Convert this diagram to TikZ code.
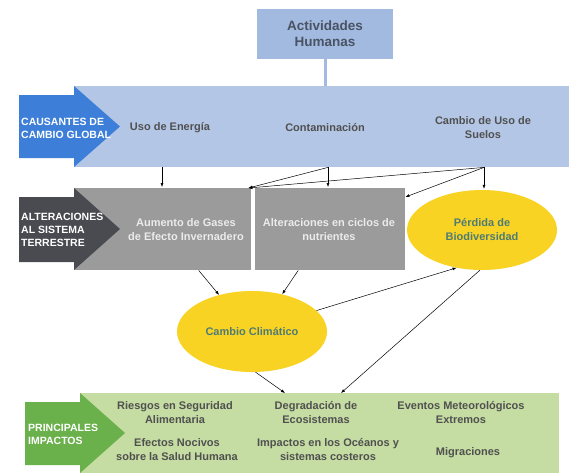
\documentclass[tikz,border=0pt]{standalone}
\usepackage{fontspec}
\setmainfont{Liberation Sans}
\usetikzlibrary{shapes.geometric,arrows.meta,calc}
\definecolor{bandblue}{HTML}{B4C6E6}
\definecolor{topblue}{HTML}{A2BAE0}
\definecolor{arrowblue}{HTML}{3D7FD8}
\definecolor{boxgray}{HTML}{9B9B9B}
\definecolor{darkarrow}{HTML}{4A4A51}
\definecolor{ellyellow}{HTML}{F8D324}
\definecolor{bandgreen}{HTML}{C5DCA2}
\definecolor{arrowgreen}{HTML}{6AB04B}
\definecolor{txtgray}{HTML}{505050}
\definecolor{toptxt}{HTML}{4A5364}
\definecolor{elltxt}{HTML}{4E7B74}
\definecolor{boxtxt}{HTML}{EBEBEB}
\begin{document}
\begin{tikzpicture}[x=1pt,y=-1pt,
  txt/.style={font=\bfseries\fontsize{11}{14}\selectfont, align=center, inner sep=0pt},
  bandtxt/.style={txt, text=txtgray},
  lbl/.style={font=\bfseries\fontsize{10.5}{13}\selectfont, align=left, text=white, inner sep=0pt, anchor=west},
  bandrect/.style={inner sep=0pt, anchor=north west},
  ell/.style={ellipse, fill=ellyellow, inner sep=0pt, minimum width=150pt, minimum height=80pt, txt, text=elltxt},
  conn/.style={-{Latex[length=4pt,width=3pt]}, line width=0.5pt, black}
]
\useasboundingbox (0,0) rectangle (569,472);

% top box
\node[fill=topblue, minimum width=136pt, minimum height=50pt, inner sep=0pt,
      font=\bfseries\fontsize{13.5}{16}\selectfont, align=center, text=toptxt] (act) at (325,34) {Actividades\\Humanas};

% blue band
\node[bandrect, fill=bandblue, minimum width=495pt, minimum height=81pt] (band) at (74,86) {};
\draw[topblue, line width=3pt] (act.south) -- (act.south |- band.north);
\fill[arrowblue] (19,95) -- (74,95) -- (74,86) -- (120,126.5) -- (74,167) -- (74,158) -- (19,158) -- cycle;
\node[lbl] (caus) at (21,128.5) {CAUSANTES DE\\CAMBIO GLOBAL};
\node[bandtxt] (uso) at (170,128) {Uso de Energía};
\node[bandtxt] (cont) at (325,128) {Contaminación};
\node[bandtxt] (camb) at (483,128) {Cambio de Uso de\\Suelos};

% gray band
\node[bandrect, fill=boxgray, minimum width=177pt, minimum height=82pt] (box1) at (74,188) {};
\node[bandrect, fill=boxgray, minimum width=150pt, minimum height=82pt] (box2) at (255,188) {};
\fill[darkarrow] (19,197) -- (74,197) -- (74,188) -- (120,229) -- (74,270) -- (74,262) -- (19,262) -- cycle;
\node[lbl] (alt) at (21,230) {ALTERACIONES\\AL SISTEMA\\TERRESTRE};
\node[txt, text=boxtxt] (gases) at (186,230) {Aumento de Gases\\de Efecto Invernadero};
\node[txt, text=boxtxt] (ciclos) at (329,230) {Alteraciones en ciclos de\\nutrientes};

% ellipses
\node[ell] (perd) at (482,230) {Pérdida de\\Biodiversidad};
\node[ell, minimum height=81pt] (cc) at (252,331.5) {Cambio Climático};

% green band
\node[bandrect, fill=bandgreen, minimum width=479pt, minimum height=90pt] (gband) at (80,393) {};
\fill[arrowgreen] (25,402) -- (80,402) -- (80,393) -- (125,433) -- (80,473) -- (80,465) -- (25,465) -- cycle;
\node[lbl] (imp) at (28,434) {PRINCIPALES\\IMPACTOS};
\node[bandtxt] (ries) at (175,412.5) {Riesgos en Seguridad\\Alimentaria};
\node[bandtxt] (degr) at (316,412.5) {Degradación de\\Ecosistemas};
\node[bandtxt] (even) at (461,412.5) {Eventos Meteorológicos\\Extremos};
\node[bandtxt] (efec) at (177,449.5) {Efectos Nocivos\\sobre la Salud Humana};
\node[bandtxt] (ocea) at (328,449.5) {Impactos en los Océanos y\\sistemas costeros};
\node[bandtxt] (migr) at (468,453) {Migraciones};

% connectors
\draw[conn] ($(uso |- band.south)+(-8,0)$) -- ($(uso |- box1.north)+(-8,-1)$);
\draw[conn] ($(cont |- band.south)+(3,0)$) -- ($(cont |- box2.north)+(3,-1)$);
\draw[conn] ($(cont |- band.south)+(3,0)$) -- ($(box1.north east)+(-3,0)$);
\draw[conn] ($(camb |- band.south)+(1,0)$) -- ($(box1.north east)+(-3,0)$);
\draw[conn] ($(camb |- band.south)+(1,0)$) -- ($(box2.north east)+(0,9)$);
\draw[conn] ($(camb |- band.south)+(1,0)$) -- ($(camb |- perd.north)+(1,-1)$);
\draw[conn] ($(box1.south)+(36,0)$) -- (cc.132);
\draw[conn] ($(box2.south)+(-32,0)$) -- (cc.51);
\draw[conn] (cc.18) -- (perd.236);
\draw[conn] (perd.267) -- ($(degr |- gband.north)+(25,0)$);
\draw[conn] (cc.275) -- ($(degr |- gband.north)+(-31,0)$);
\end{tikzpicture}
\end{document}
